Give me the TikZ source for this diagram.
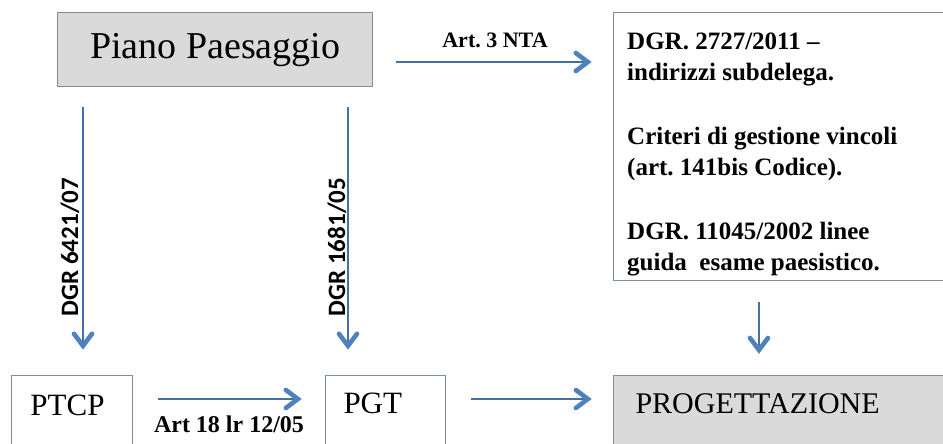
\documentclass[tikz,border=0pt]{standalone}
\usepackage{fontspec}
\setmainfont{Liberation Serif}
\newfontfamily\calibfont{Carlito}
\usetikzlibrary{calc,decorations.markings}
\definecolor{boxborder}{HTML}{7D8DA3}
\definecolor{boxfill}{HTML}{DADADA}
\definecolor{arrblue}{HTML}{4F81BD}
\definecolor{shaftblue}{HTML}{46709F}
\frenchspacing
\begin{document}
\begin{tikzpicture}[x=1pt,y=-1pt,
  box/.style={draw=boxborder, line width=1pt, inner sep=0pt, anchor=north west},
  arr/.style={draw=shaftblue, line width=1.2pt, postaction={decorate},
     decoration={markings, mark=at position 0.999 with {
       \draw[arrblue, line width=4.6pt, line cap=round, line join=miter]
         (-12pt,9pt) -- (0pt,0pt) -- (-12pt,-9pt);}}},
  lbl/.style={font=\frenchspacing\bfseries\fontsize{22}{24}\selectfont},
  vlbl/.style={rotate=90, anchor=base, font=\calibfont\bfseries\fontsize{25}{27}\selectfont},
  bigtxt/.style={font=\fontsize{31}{33}\selectfont}
  ]
\useasboundingbox (0,0) rectangle (943,444);
\fill[white] (0,0) rectangle (943,444);
\clip (0,0) rectangle (943,444);

% boxes
\node[box, fill=boxfill, line width=1.4pt, minimum width=315pt, minimum height=74pt,
      font=\fontsize{38}{40}\selectfont] (pp) at (57,12) {Piano Paesaggio};
\node[box, minimum width=400pt, minimum height=268pt] (rb) at (613,12) {};
\node[anchor=north west, inner sep=0pt, align=left,
      font=\frenchspacing\bfseries\fontsize{25}{31}\selectfont] (rbt)
      at ([xshift=14pt,yshift=-21pt]rb.north west)
  {DGR. 2727/2011 –\\indirizzi subdelega.\\[33pt]Criteri di gestione vincoli\\(art. 141bis Codice).\\[33pt]DGR. 11045/2002 linee\\guida~ esame paesistico.};
\node[box, bigtxt, text height=40pt, text depth=60pt, inner xsep=19pt,
      text width=83pt, align=left] (ptcp) at (11,375) {PTCP};
\node[box, bigtxt, text height=38pt, text depth=62pt, inner xsep=18pt,
      text width=84pt, align=left] (pgt) at (325,375) {PGT};
\node[box, fill=boxfill, font=\fontsize{30}{32}\selectfont, text height=38pt,
      text depth=62pt, inner xsep=22pt, text width=360pt, align=left] (prog)
      at (613,375) {PROGETTAZIONE};

% connectors
\coordinate (v1) at (83,86);
\coordinate (v2) at (348,86);
\coordinate (v3) at (759,280);
\coordinate (h1) at (0,399);
\coordinate (h0) at (0,62);

\draw[arr] ($(pp.east |- h0)+(23,0)$) -- ($(rb.west |- h0)+(-25,0)$);
\draw[arr] ($(v1)+(0,21)$) -- ($(v1 |- ptcp.north)+(0,-29)$);
\draw[arr] ($(v2)+(0,21)$) -- ($(v2 |- pgt.north)+(0,-29)$);
\draw[arr] ($(ptcp.east |- h1)+(25,0)$) -- ($(pgt.west |- h1)+(-27,0)$);
\draw[arr] ($(pgt.east |- h1)+(25,0)$) -- ($(prog.west |- h1)+(-25,0)$);
\draw[arr] ($(v3)+(0,22)$) -- ($(v3 |- prog.north)+(0,-25)$);

% labels
\node[lbl] (l3) at (495,40) {Art. 3 NTA};
\node[lbl, font=\frenchspacing\bfseries\fontsize{24}{26}\selectfont] (l18) at (229,424) {Art 18 lr 12/05};
\node[vlbl] (d1) at (78,247) {DGR 6421/07};
\node[vlbl] (d2) at (345,247) {DGR 1681/05};
\end{tikzpicture}
\end{document}
